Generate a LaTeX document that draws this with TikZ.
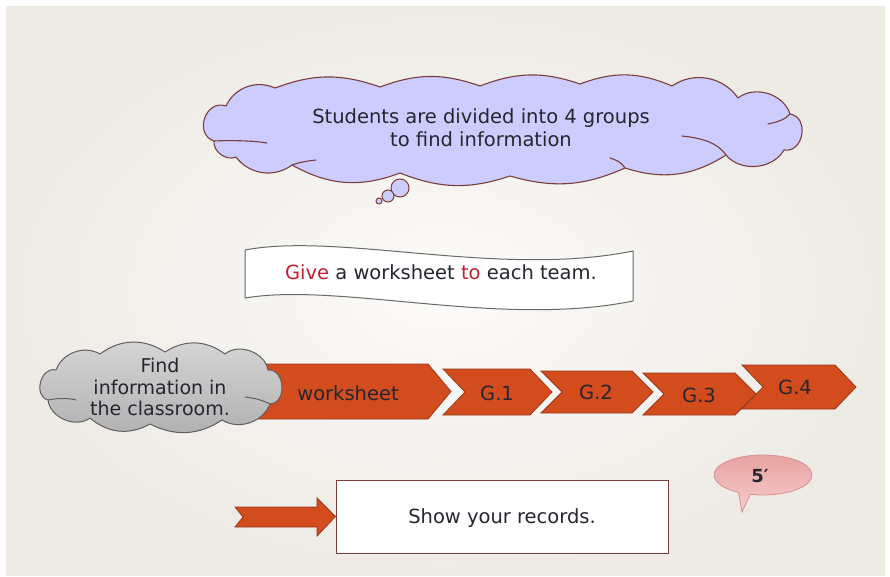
\documentclass[tikz,border=0pt]{standalone}
\usepackage{fontspec}
\setmainfont{DejaVu Sans}
\definecolor{bg}{RGB}{238,235,229}
\definecolor{bglight}{RGB}{252,251,249}
\definecolor{txt}{RGB}{38,38,48}
\definecolor{cloudfill}{RGB}{204,204,255}
\definecolor{cloudline}{RGB}{125,60,60}
\definecolor{grayline}{RGB}{95,95,95}
\definecolor{grayA}{RGB}{214,214,214}
\definecolor{grayB}{RGB}{176,176,176}
\definecolor{chevfill}{RGB}{210,76,30}
\definecolor{chevline}{RGB}{150,58,28}
\definecolor{redword}{RGB}{190,32,45}
\definecolor{boxline}{RGB}{125,60,60}
\definecolor{pinkA}{RGB}{232,160,160}
\definecolor{pinkB}{RGB}{247,205,205}
\definecolor{pinkline}{RGB}{215,145,145}
\tikzset{
  bigtext/.style={font=\fontsize{19.5}{23}\selectfont, text=txt, align=center, inner sep=0pt},
  purplecloud/.style={draw=cloudline, line width=1.1pt, fill=cloudfill, line join=round},
  innerstroke/.style={draw=cloudline, line width=1.1pt, line cap=round},
  graycloud/.style={draw=grayline, line width=1pt, top color=grayA, bottom color=grayB, line join=round},
  grayinner/.style={draw=grayline, line width=1pt, line cap=round},
  chevshape/.style={fill=chevfill, draw=chevline, line width=0.8pt, line join=miter},
  bubble/.style={draw=cloudline, line width=1pt, fill=cloudfill},
}
\newcommand{\mychev}[5]{% left, right, top, bottom, depth
  \path[chevshape] (#1,#3) -- ({#2-#5},#3) -- (#2,{(#3+#4)/2}) -- ({#2-#5},#4) -- (#1,#4) -- ({#1+#5},{(#3+#4)/2}) -- cycle;}
\begin{document}
\begin{tikzpicture}[x=1pt,y=-1pt]
\useasboundingbox (0,0) rectangle (890,576);
\fill[white] (0,0) rectangle (890,576);
\shade[inner color=bglight, outer color=bg] (6,6) rectangle (885,575);

% purple thought cloud
\path[purplecloud]
  (214,141) to[bend left=90, looseness=1.5] (226,106)
  to[bend left=45] (275,88)
  to[bend left=20] (380,87)
  to[bend left=20] (480,86)
  to[bend left=20] (580,84)
  to[bend left=22] (672,86)
  to[bend left=45] (738,98)
  to[bend left=55] (790,114)
  to[bend left=90, looseness=1.4] (784,150)
  to[bend left=55] (726,155)
  to[bend left=25] (625,168)
  to[bend left=20] (510,176)
  to[bend left=20] (400,173)
  to[bend left=25] (292,165)
  to[bend left=45] (236,157)
  to[bend left=60] cycle;
\coordinate (thoughtcenter) at (502,130);
\draw[innerstroke] (214,141) .. controls (235,140) and (255,141) .. (267,143);
\draw[innerstroke] (292,165) .. controls (300,162) and (308,161) .. (316,160);
\draw[innerstroke] (726,155) .. controls (718,143) and (702,138) .. (682,136);
\draw[innerstroke] (790,114) .. controls (786,119) and (778,122) .. (768,124);
\draw[innerstroke] (625,168) .. controls (622,163) and (617,160) .. (610,158);
\node[bigtext] (thoughttext) at (481,128) {Students are divided into 4 groups\\to find information};
\node[bubble, circle, minimum size=18pt, inner sep=0pt] (b1) at (400,188) {};
\node[bubble, circle, minimum size=12pt, inner sep=0pt] (b2) at (388,196) {};
\node[bubble, circle, minimum size=6pt, inner sep=0pt] (b3) at (379,201) {};

% wave banner
\path[fill=white, draw={rgb,255:red,105;green,105;blue,105}, line width=1pt]
  (245,250) .. controls (340,232) and (500,278) .. (633,251)
  -- (633,301) .. controls (500,328) and (340,282) .. (245,298) -- cycle;
\node[bigtext] (give) at (441,272) {\textcolor{redword}{Give} a worksheet \textcolor{redword}{to} each team.};

% chevrons
\mychev{255}{451}{364}{419}{23}
\node[bigtext] (ws) at (348,393) {worksheet};
\mychev{443}{552}{369}{415}{22}
\node[bigtext] (g1) at (497,393) {G.1};
\mychev{541}{653}{371}{413}{21}
\node[bigtext] (g2) at (596,392) {G.2};
\mychev{643}{756}{373}{415}{21}
\node[bigtext] (g3) at (699,395) {G.3};
\mychev{742}{856}{365}{409}{21}
\node[bigtext] (g4) at (795,387) {G.4};

% gray cloud
\path[graycloud]
  (48,400) to[bend left=90, looseness=1.3] (56,370)
  to[bend left=50] (100,354)
  to[bend left=35] (165,352)
  to[bend left=35] (225,354)
  to[bend left=60] (268,370)
  to[bend left=90, looseness=1.3] (270,404)
  to[bend left=50] (222,420)
  to[bend left=30] (150,424)
  to[bend left=35] (90,418)
  to[bend left=60] cycle;
\draw[grayinner] (270,404) .. controls (262,400) and (254,398) .. (245,397);
\draw[grayinner] (48,400) .. controls (58,398) and (68,398) .. (76,400);
\node[bigtext, font=\fontsize{19}{21.5}\selectfont] (findtext) at (160,387) {Find\\information in\\the classroom.};

% box and arrow
\node[draw=boxline, line width=1pt, fill=white, minimum width=332pt, minimum height=73pt, inner sep=0pt] (show) at (502,516.5) {};
\node[bigtext] (showtext) at (502,518) {Show your records.};
\coordinate (arrowstart) at (235,507);
\path[chevshape] (arrowstart) -- (317,507) -- (317,498) -- (show.west) -- (317,536) -- (317,527) -- (235,527) -- (243,517) -- cycle;

% speech bubble
\path[draw=pinkline, line width=0.8pt, top color=pinkA, bottom color=pinkB]
  (750.3,494.3) -- (742,512) -- (738.5,492.3)
  arc[start angle=120, end angle=465, x radius=49, y radius=20] -- cycle;
\node[bigtext, font=\bfseries\fontsize{18}{20}\selectfont] (five) at (760,476) {5′};
\end{tikzpicture}
\end{document}
